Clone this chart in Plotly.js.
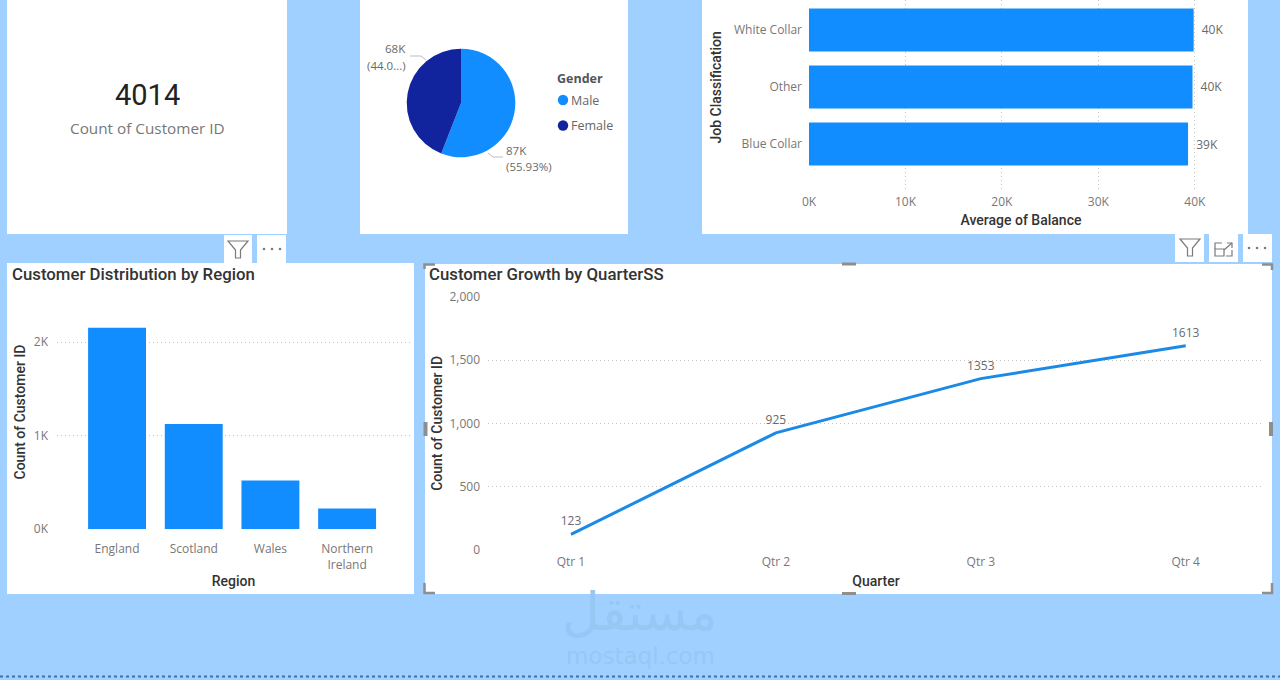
<!DOCTYPE html>
<html>
<head>
<meta charset="utf-8">
<script src="https://cdn.plot.ly/plotly-3.0.1.min.js"></script>
<style>html,body{margin:0;padding:0;background:#A0D0FF;overflow:hidden}#chart{width:1280px;height:680px}</style>
</head>
<body>
<div id="chart"></div>
<script>
// ---- data ----
const kpiValue = '4014';
const kpiLabel = 'Count of Customer ID';

const genderLabels = ['Male', 'Female'];
const genderValues = [87000, 68550];
const genderColors = ['#118DFF', '#12239E'];

const jobCategories = ['Blue Collar', 'Other', 'White Collar'];
const jobBalance = [39300, 39760, 39880];
const jobText = ['39K', '40K', '40K'];
const balanceTicks = [0, 10000, 20000, 30000, 40000];
const balanceTickText = ['0K', '10K', '20K', '30K', '40K'];

const regions = ['England', 'Scotland', 'Wales', 'Northern<br>Ireland'];
const regionCounts = [2153, 1123, 520, 218];
const regionTicks = [0, 1000, 2000];
const regionTickText = ['0K', '1K', '2K'];

const quarters = ['Qtr 1', 'Qtr 2', 'Qtr 3', 'Qtr 4'];
const quarterCounts = [123, 925, 1353, 1613];

// ---- helpers: page pixels to paper fractions ----
const X = p => p / 1280, Y = p => 1 - p / 680;
const W = 1280, H = 680;
const BG = '#A0D0FF', BLUE = '#118DFF', GRID = '#c4c4c4', GRIDDASH = '1px,3px';
const TXT = 'Open Sans, sans-serif', DIN = 'Roboto, sans-serif';
const tickFont = {family: TXT, size: 12, color: '#777777'};
const axTitle = t => ({text: t, font: {family: DIN, size: 14, color: '#333333', weight: 500}});

const rect = (x0, y0, x1, y1, fill) => ({type: 'rect', xref: 'paper', yref: 'paper', layer: 'below',
  x0: X(x0), x1: X(x1), y0: Y(y0), y1: Y(y1), fillcolor: fill, line: {width: 0}});
const path = (pts, color, width, closed) => ({type: 'path', xref: 'paper', yref: 'paper', layer: 'above',
  path: 'M' + pts.map(p => X(p[0]) + ',' + Y(p[1])).join('L') + (closed ? 'Z' : ''),
  line: {color: color, width: width}, fillcolor: 'rgba(0,0,0,0)'});
const dot = (cx, cy, r, color) => ({type: 'circle', xref: 'paper', yref: 'paper', layer: 'above',
  x0: X(cx - r), x1: X(cx + r), y0: Y(cy - r), y1: Y(cy + r), fillcolor: color, line: {width: 0}});
const pad = {left: -2, right: 2, center: 0};
const note = (text, x, y, anchor, font, extra) => Object.assign({
  text: text, xref: 'paper', yref: 'paper', x: X(x + pad[anchor]), y: Y(y), xanchor: anchor, yanchor: 'middle',
  showarrow: false, font: font, align: anchor}, extra || {});

// ---- chrome: panels, toolbars, handles ----
const shapes = [
  rect(7, 0, 287, 234, '#fff'),
  rect(360, 0, 628, 234, '#fff'),
  rect(702, 0, 1248, 234, '#fff'),
  rect(7, 263, 414, 594, '#fff'),
  rect(425, 264, 1272, 594, '#fff'),
  rect(224, 235, 252, 263, '#fff'),
  rect(257, 235, 286, 263, '#fff'),
  rect(1175, 234, 1204, 262, '#fff'),
  rect(1209, 234, 1238, 262, '#fff'),
  rect(1243, 234, 1272, 262, '#fff'),
];
const ICON = '#7a7a7a';
const funnel = (x, y) => path([[x, y], [x + 20, y], [x + 12.5, y + 9], [x + 12.5, y + 17], [x + 7.5, y + 17], [x + 7.5, y + 9]], ICON, 1.2, true);
shapes.push(funnel(228, 241), funnel(1180, 239));
[264, 272, 280].forEach(x => shapes.push(dot(x, 249, 1.3, ICON)));
[1249, 1257, 1265].forEach(x => shapes.push(dot(x, 248, 1.3, ICON)));
shapes.push(
  path([[1215, 249], [1224, 249], [1224, 256], [1215, 256]], ICON, 1.2, true),
  path([[1215, 249], [1215, 243], [1222, 243]], ICON, 1.2),
  path([[1226, 256], [1232, 256], [1232, 250]], ICON, 1.2),
  path([[1224, 250], [1232, 243]], ICON, 1.2),
  path([[1227, 243], [1232, 243], [1232, 248]], ICON, 1.2)
);
const HANDLE = '#8e8e8e';
shapes.push(
  path([[424.5, 269], [424.5, 264.5], [435, 264.5]], HANDLE, 2.5),
  path([[1262, 264.5], [1272, 264.5], [1272, 270]], HANDLE, 2.5),
  path([[424.5, 583], [424.5, 593], [435, 593]], HANDLE, 2.5),
  path([[1262, 593], [1272, 593], [1272, 583]], HANDLE, 2.5),
  path([[425.5, 422], [425.5, 436]], HANDLE, 4),
  path([[1271, 422], [1271, 436]], HANDLE, 4),
  path([[842, 264], [856, 264]], HANDLE, 3),
  path([[842, 593.5], [856, 593.5]], HANDLE, 3),
  // pie leaders
  path([[410, 56], [421, 56], [426, 60]], '#bdbdbd', 1),
  path([[488, 153], [493, 157], [503, 157]], '#bdbdbd', 1),
  // legend markers
  dot(563, 100, 5.2, genderColors[0]),
  dot(563, 125.5, 5.2, genderColors[1]),
  // dotted page edge
  {type: 'line', xref: 'paper', yref: 'paper', layer: 'above', x0: 0, x1: 1, y0: Y(676.5), y1: Y(676.5),
   line: {color: '#3f6fa8', width: 2, dash: 'dot'}}
);

const labelFont = {family: TXT, size: 11.5, color: '#6a6a6a'};
const titleFont = {family: DIN, size: 16.8, color: '#333333', weight: 500};
const annotations = [
  note(kpiValue, 147, 95, 'center', {family: DIN, size: 29, color: '#222222', weight: 400}),
  note(kpiLabel, 147, 128, 'center', {family: TXT, size: 15.3, color: '#777777'}),
  note('Customer Distribution by Region', 12, 274, 'left', titleFont),
  note('Customer Growth by QuarterSS', 429, 274, 'left', titleFont),
  note('68K', 406, 49, 'right', labelFont),
  note('(44.0...)', 406, 66, 'right', labelFont),
  note('87K', 506, 150, 'left', labelFont),
  note('(55.93%)', 506, 166, 'left', labelFont),
  note('Gender', 557, 78, 'left', {family: TXT, size: 12.5, color: '#555555', weight: 700}),
  note(genderLabels[0], 571, 100, 'left', {family: TXT, size: 12.5, color: '#666666'}),
  note(genderLabels[1], 571, 125.5, 'left', {family: TXT, size: 12.5, color: '#666666'}),
  note('Job Classification', 716, 87.5, 'center', axTitle('').font, {textangle: -90}),
  note('مستقل', 640, 612, 'center', {family: 'DejaVu Sans, sans-serif', size: 52, color: '#97C8F4'}),
  note('mostaql.com', 640, 656, 'center', {family: 'DejaVu Sans, sans-serif', size: 23, color: '#97C8F4'})
];

// ---- traces ----
const traces = [
  {type: 'pie', labels: genderLabels, values: genderValues, sort: false, direction: 'clockwise', rotation: 0,
   marker: {colors: genderColors}, textinfo: 'none', showlegend: false, hoverinfo: 'label+value+percent',
   domain: {x: [X(406.7), X(515.3)], y: [Y(157.3), Y(48.7)]}},
  {type: 'bar', orientation: 'h', y: jobCategories, x: jobBalance, xaxis: 'x', yaxis: 'y',
   marker: {color: BLUE}, text: jobText, texttemplate: '\u00a0\u2009%{text}', textposition: 'outside', cliponaxis: false,
   textfont: {family: TXT, size: 12, color: '#6a6a6a'}, showlegend: false},
  {type: 'bar', x: regions, y: regionCounts, xaxis: 'x2', yaxis: 'y2', marker: {color: BLUE}, showlegend: false},
  {type: 'scatter', mode: 'lines+markers+text', x: quarters, y: quarterCounts, xaxis: 'x3', yaxis: 'y3',
   line: {color: '#1B8AE6', width: 3}, marker: {size: 8, opacity: 0, color: '#1B8AE6'},
   text: quarterCounts.map(String), textposition: 'top center',
   textfont: {family: TXT, size: 12, color: '#6a6a6a'}, cliponaxis: false, showlegend: false}
];

const grid = {showgrid: true, gridcolor: GRID, griddash: GRIDDASH, gridwidth: 1, zeroline: false, showline: false, ticks: ''};
const layout = {
  width: W, height: H, margin: {l: 0, r: 0, t: 0, b: 0}, paper_bgcolor: BG, plot_bgcolor: 'rgba(0,0,0,0)',
  showlegend: false, bargap: 0.245, shapes: shapes, annotations: annotations,
  xaxis: Object.assign({}, grid, {domain: [X(809), X(1233)], anchor: 'y', range: [0, 43960],
    tickvals: balanceTicks, ticktext: balanceTickText, tickfont: tickFont, ticklabelstandoff: 3,
    title: Object.assign(axTitle('Average of Balance'), {standoff: 6})}),
  yaxis: Object.assign({}, grid, {domain: [Y(190), 1], anchor: 'x', showgrid: false, type: 'category',
    categoryorder: 'array', categoryarray: jobCategories, range: [-0.807, 2.526],
    tickfont: tickFont, ticklabelstandoff: 6}),
  xaxis2: Object.assign({}, grid, {domain: [X(57), X(410)], anchor: 'y2', showgrid: false, type: 'category',
    categoryorder: 'array', categoryarray: regions, range: [-0.783, 3.82], tickfont: tickFont, ticklabelstandoff: 11,
    title: Object.assign(axTitle('Region'), {standoff: 4})}),
  yaxis2: Object.assign({}, grid, {domain: [Y(529), Y(295)], anchor: 'x2', range: [0, 2503],
    tickvals: regionTicks, ticktext: regionTickText, tickfont: tickFont, ticklabelstandoff: 8,
    title: Object.assign(axTitle('Count of Customer ID'), {standoff: 4})}),
  xaxis3: Object.assign({}, grid, {domain: [X(488), X(1264)], anchor: 'y3', showgrid: false, type: 'category',
    categoryorder: 'array', categoryarray: quarters, range: [-0.405, 3.382], tickfont: tickFont, ticklabelstandoff: 3,
    title: Object.assign(axTitle('Quarter'), {standoff: 7})}),
  yaxis3: Object.assign({}, grid, {domain: [Y(550), Y(296.7)], anchor: 'x3', range: [0, 2000],
    tickformat: ',', tickvals: [0, 500, 1000, 1500, 2000], tickfont: tickFont, ticklabelstandoff: 7,
    title: Object.assign(axTitle('Count of Customer ID'), {standoff: 3})})
};

Plotly.newPlot('chart', traces, layout, {displayModeBar: false, responsive: false});
</script>
</body>
</html>
